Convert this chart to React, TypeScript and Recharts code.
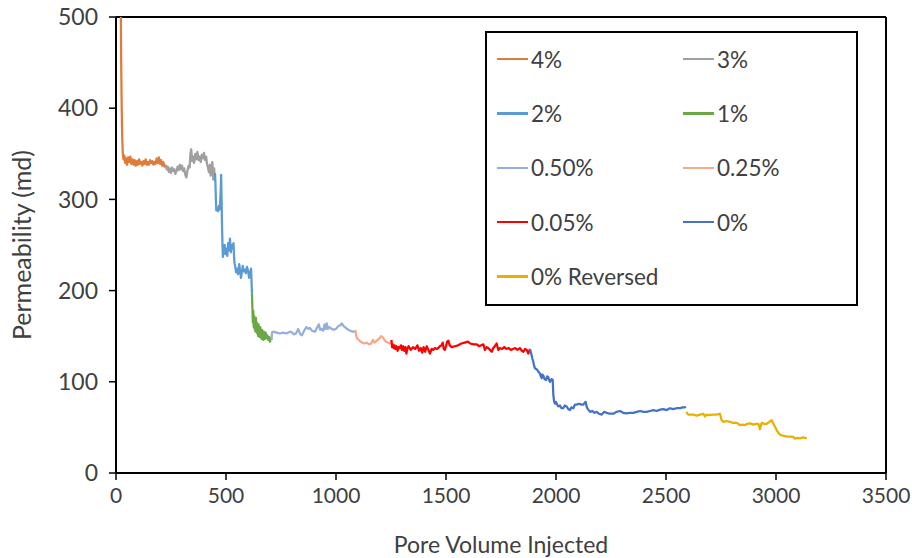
import React from 'react';
import { LineChart, Line, XAxis, YAxis, ReferenceLine } from 'recharts';

type P = [number, number];

const xTicks = [0, 500, 1000, 1500, 2000, 2500, 3000, 3500];
const yTicks = [0, 100, 200, 300, 400, 500];

const seriesNames = ['4%', '3%', '2%', '1%', '0.50%', '0.25%', '0.05%', '0%', '0% Reversed'];
const seriesColors = ['#E07B39', '#A0A0A0', '#5B9BD5', '#6AA843', '#94AEE0', '#F4A98A', '#FF0000', '#4472C4', '#E8B000'];

const s4: P[] = [[22,500],[24,440],[26,400],[28,370],[31,350],[34,344],[38,348],[42,340],[46,345],[50,338],[55,346],[60,341],[65,347],[70,339],[75,344],[80,338],[85,343],[90,337],[95,342],[100,338],[105,344],[110,339],[115,341],[120,337],[125,342],[130,339],[135,344],[140,338],[145,341],[150,338],[155,343],[160,340],[165,342],[170,338],[175,341],[180,339],[185,345],[190,340],[195,346],[200,339],[205,343],[210,337],[215,341],[220,336],[226,338]];
const s3: P[] = [[226,338],[230,333],[235,336],[240,330],[245,334],[250,329],[255,335],[260,331],[265,333],[270,328],[275,331],[280,336],[285,332],[290,338],[295,333],[300,337],[305,331],[310,334],[315,327],[320,324],[325,332],[330,337],[335,335],[338,350],[342,355],[346,342],[350,347],[355,340],[360,350],[365,344],[370,352],[375,343],[380,347],[385,341],[390,349],[395,345],[400,351],[405,343],[410,347],[414,338],[418,335],[422,330],[426,338],[430,326],[434,335],[438,341],[442,322],[446,334],[450,320]];
const s2: P[] = [[450,329],[452,318],[454,300],[456,288],[460,290],[464,287],[468,293],[472,289],[476,310],[478,327],[480,300],[482,270],[484,250],[486,237],[490,245],[494,250],[498,240],[502,246],[506,238],[510,252],[514,244],[518,257],[522,242],[526,250],[530,246],[534,252],[538,231],[542,226],[546,220],[550,224],[555,218],[560,229],[564,222],[568,214],[572,220],[576,227],[580,221],[585,223],[590,219],[595,226],[600,222],[605,214],[610,220],[614,224],[618,197]];
const s1: P[] = [[618,197],[620,180],[622,165],[624,178],[626,160],[628,172],[630,158],[632,168],[634,155],[636,170],[638,157],[640,165],[642,153],[644,162],[646,150],[648,163],[650,152],[652,158],[654,149],[656,160],[658,150],[660,156],[662,147],[664,157],[666,149],[668,153],[670,146],[672,155],[674,148],[676,152],[678,147],[680,154],[684,148],[688,151],[692,146],[696,149],[700,144],[704,148],[707,146]];
const s050: P[] = [[707,146],[709,154],[715,155],[730,154],[745,153],[760,154],[775,153],[790,155],[800,154],[810,152],[818,153],[828,158],[838,152],[845,151],[855,156],[865,160],[875,158],[882,159],[890,156],[905,155],[915,160],[922,163],[928,157],[935,158],[942,156],[948,163],[953,158],[958,164],[963,158],[970,160],[980,158],[990,157],[1000,158],[1010,161],[1020,162],[1026,164],[1035,161],[1045,159],[1056,157],[1065,156],[1075,155],[1088,155]];
const s025: P[] = [[1088,157],[1092,150],[1098,147],[1108,145],[1118,143],[1128,142],[1140,143],[1150,141],[1160,142],[1168,146],[1175,143],[1185,145],[1195,147],[1205,150],[1212,149],[1220,146],[1228,144],[1236,143],[1245,142],[1252,144]];
const s005: P[] = [[1252,146],[1255,138],[1258,141],[1262,137],[1266,140],[1270,136],[1275,139],[1280,134],[1285,138],[1290,137],[1295,140],[1300,135],[1305,139],[1310,134],[1315,138],[1320,131],[1325,137],[1330,139],[1340,135],[1350,138],[1360,136],[1370,140],[1378,134],[1385,137],[1392,132],[1398,138],[1405,133],[1412,139],[1420,135],[1427,131],[1435,136],[1442,135],[1450,137],[1458,136],[1465,137],[1472,139],[1480,140],[1485,143],[1490,136],[1495,135],[1500,139],[1505,144],[1511,145],[1517,140],[1526,138],[1540,139],[1555,140],[1570,142],[1585,143],[1600,144],[1610,142],[1625,141],[1640,141],[1650,139],[1660,140],[1670,141],[1677,135],[1685,138],[1692,137],[1700,135],[1708,133],[1715,137],[1722,139],[1730,142],[1738,135],[1745,137],[1755,136],[1765,138],[1775,136],[1785,137],[1795,135],[1805,136],[1815,137],[1825,135],[1836,137],[1845,134],[1852,133],[1860,136],[1867,135],[1874,131],[1882,136]];
const s0: P[] = [[1882,136],[1886,132],[1889,129],[1893,125],[1897,122],[1900,118],[1904,115],[1910,114],[1915,113],[1920,111],[1927,109],[1931,106],[1935,104],[1938,108],[1942,107],[1948,103],[1955,102],[1960,106],[1965,105],[1970,101],[1973,100],[1980,103],[1985,102],[1988,85],[1991,79],[1995,76],[2000,78],[2005,75],[2011,73],[2018,74],[2025,71],[2033,71],[2040,74],[2048,73],[2056,70],[2064,69],[2070,72],[2079,71],[2086,75],[2094,75],[2105,76],[2115,75],[2124,75],[2135,78],[2139,73],[2145,70],[2155,67],[2165,68],[2175,66],[2185,67],[2195,65],[2208,64],[2218,67],[2230,66],[2245,65],[2261,65],[2275,67],[2291,68],[2305,66],[2321,65.5],[2335,66],[2352,66],[2367,67],[2382,68],[2397,67],[2412,67],[2427,68],[2442,69],[2457,68],[2473,69.5],[2488,70],[2503,69],[2518,71],[2533,70],[2548,71],[2564,71],[2575,72],[2586,72],[2590,73]];
const s0r: P[] = [[2592,67],[2601,64],[2612,64],[2624,64],[2640,63],[2655,64],[2670,65],[2677,62],[2685,64],[2692,63.5],[2710,64],[2730,64],[2745,65],[2753,58],[2761,56],[2775,57],[2791,56],[2805,55],[2821,55],[2836,52.6],[2848,53],[2859,52.6],[2870,54],[2882,54.4],[2897,53],[2910,54],[2920,54],[2927,48],[2935,55],[2945,54],[2958,54],[2970,56],[2980,58],[2988,54],[2995,51],[3005,46],[3018,42],[3030,41],[3048,40],[3065,40],[3079,39.5],[3086,37.6],[3095,38.5],[3109,38],[3125,39],[3140,38]];

const seriesPoints: P[][] = [s4, s3, s2, s1, s050, s025, s005, s0, s0r];

const FONT = 'Lato, "Noto Sans", sans-serif';
const TEXT = '#404040';

const LegendBox = () => (
  <div
    style={{
      position: 'absolute',
      left: 485,
      top: 31,
      width: 369,
      height: 271,
      border: '2px solid #000',
      background: '#fff',
      fontFamily: FONT,
      fontSize: 22.5,
      color: TEXT,
    }}
  >
    {seriesNames.map((n, i) => {
      const col = i % 2;
      const row = Math.floor(i / 2);
      return (
        <div
          key={n}
          style={{
            position: 'absolute',
            left: col ? 196 : 10,
            top: 26 + row * 54.4 - 14,
            height: 28,
            display: 'flex',
            alignItems: 'center',
            whiteSpace: 'nowrap',
          }}
        >
          <div style={{ width: 31, height: 2.5, background: seriesColors[i] }} />
          <span style={{ marginLeft: 3 }}>{n}</span>
        </div>
      );
    })}
  </div>
);

export default function App() {
  return (
    <div style={{ position: 'absolute', left: 0, top: 0, width: 912, height: 558, background: '#fff' }}>
      <LineChart width={912} height={558} margin={{ top: 17, right: 26, left: 0, bottom: 0 }}>
        <XAxis
          type="number"
          dataKey="x"
          domain={[0, 3500]}
          ticks={xTicks}
          height={85}
          axisLine={{ stroke: '#000', strokeWidth: 2 }}
          tickLine={{ stroke: '#000', strokeWidth: 1.5 }}
          tickSize={7}
          tickMargin={8}
          tick={{ fill: TEXT, fontSize: 21, fontFamily: FONT }}
          label={{ value: 'Pore Volume Injected', position: 'insideBottom', offset: 5, fill: TEXT, fontSize: 23, fontFamily: FONT }}
        />
        <YAxis
          type="number"
          dataKey="y"
          domain={[0, 500]}
          ticks={yTicks}
          width={116}
          allowDataOverflow
          axisLine={{ stroke: '#000', strokeWidth: 2 }}
          tickLine={{ stroke: '#000', strokeWidth: 1.5 }}
          tickSize={7}
          tickMargin={11}
          tick={{ fill: TEXT, fontSize: 23, fontFamily: FONT }}
          label={{ value: 'Permeability (md)', angle: -90, position: 'insideLeft', offset: 22, fill: TEXT, fontSize: 25, fontFamily: FONT, style: { textAnchor: 'middle' } }}
        />
        <ReferenceLine y={500} stroke="#000" strokeWidth={2} />
        <ReferenceLine x={3500} stroke="#000" strokeWidth={2} />
        {seriesPoints.map((pts, i) => (
          <Line
            key={seriesNames[i]}
            name={seriesNames[i]}
            data={pts.map(([x, y]) => ({ x, y }))}
            dataKey="y"
            type="linear"
            stroke={seriesColors[i]}
            strokeWidth={2.25}
            strokeLinejoin="round"
            dot={false}
            activeDot={false}
            isAnimationActive={false}
          />
        ))}
      </LineChart>
      <LegendBox />
    </div>
  );
}
